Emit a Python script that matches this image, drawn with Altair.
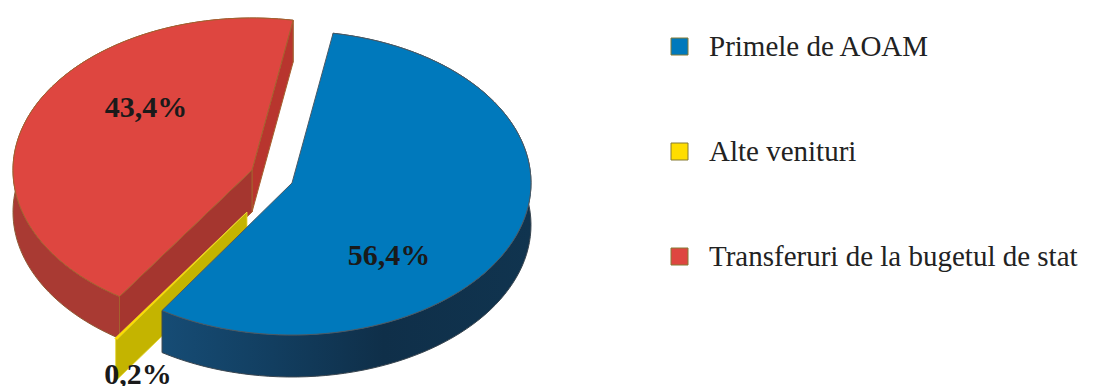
import numpy as np
import pandas as pd
import altair as alt

# Venituri: share of each source, in percent
categories = ["Primele de AOAM", "Alte venituri", "Transferuri de la bugetul de stat"]
shares = [56.4, 0.2, 43.4]
top_colors = ["#0079BC", "#FFDD00", "#DE4640"]

# Ellipse of the tilted disc, and the pull-out centre of each slice
RX, RY = 239, 152
DEPTH = 42
FIRST_ANGLE = 9.9
CENTERS = {"blue": (292, 183), "yellow": (247, 212), "red": (252, 170)}
W, H = 1094, 386

x_scale = alt.Scale(domain=[0, W], range=[0, W], nice=False, zero=False)
y_scale = alt.Scale(domain=[H, 0], range=[H, 0], nice=False, zero=False)
y_scale = alt.Scale(domain=[0, H], range=[0, H], nice=False, zero=False)


def rim(center, a0, a1, drop=0.0, n=90):
    """Points along the disc edge between two clockwise angles from the top."""
    t = np.radians(np.linspace(a0, a1, n))
    return center[0] + RX * np.sin(t), center[1] - RY * np.cos(t) + drop


def frame(xs, ys, **extra):
    xs = np.append(xs, xs[0])
    ys = np.append(ys, ys[0])
    return pd.DataFrame({"x": xs, "y": ys, "i": np.arange(len(xs)), **extra})


def top_face(center, a0, a1, category):
    rx, ry = rim(center, a0, a1)
    return frame(np.r_[center[0], rx], np.r_[center[1], ry], category=category)


def side_face(center, a0, a1):
    rx, ry = rim(center, a0, a1)
    bx, by = rim(center, a1, a0, drop=DEPTH)
    return frame(np.r_[rx, bx], np.r_[ry, by])


def cut_face(center, angle):
    ex, ey = rim(center, angle, angle, n=1)
    xs = np.array([center[0], ex[0], ex[0], center[0]])
    ys = np.array([center[1], ey[0], ey[0] + DEPTH, center[1] + DEPTH])
    return frame(xs, ys)


def polygon(df, fill, stroke, width=1.0):
    return alt.Chart(df).mark_line(
        fill=fill, stroke=stroke, strokeWidth=width, strokeJoin="round", interpolate="linear"
    ).encode(
        x=alt.X("x:Q", scale=x_scale, axis=None),
        y=alt.Y("y:Q", scale=y_scale, axis=None),
        order="i:Q",
    )


fill_scale = alt.Scale(domain=categories, range=top_colors)
legend = alt.Legend(
    title=None,
    orient="none",
    legendX=665,
    legendY=32,
    symbolType="square",
    symbolSize=289,
    symbolStrokeColor="#857a35",
    symbolStrokeWidth=1,
    symbolOpacity=1,
    labelFont="Liberation Serif",
    labelFontSize=29,
    labelColor="#222222",
    labelLimit=500,
    labelOffset=15,
    rowPadding=75,
)


def coloured_top(df, stroke, width=1.0):
    return alt.Chart(df).mark_line(
        stroke=stroke, strokeWidth=width, strokeJoin="round"
    ).encode(
        x=alt.X("x:Q", scale=x_scale, axis=None),
        y=alt.Y("y:Q", scale=y_scale, axis=None),
        order="i:Q",
        fill=alt.Fill("category:N", scale=fill_scale, legend=legend),
    )


a_blue_end = FIRST_ANGLE + shares[0] * 3.6
a_yellow_end = a_blue_end + shares[1] * 3.6
a_red_end = a_yellow_end + shares[2] * 3.6

blue_side_fill = alt.Gradient(
    gradient="linear", x1=0, x2=1, y1=0, y2=0,
    stops=[
        alt.GradientStop(offset=0, color="#164C75"),
        alt.GradientStop(offset=0.3, color="#123E60"),
        alt.GradientStop(offset=0.6, color="#0F2F49"),
        alt.GradientStop(offset=1, color="#10344F"),
    ],
)

layers = [
    # red slice: outer wall, two cut walls, top
    polygon(side_face(CENTERS["red"], a_yellow_end, a_red_end), "#A93A33", "#8F5A35"),
    polygon(cut_face(CENTERS["red"], a_red_end), "#B8352E", "#A5612F"),
    polygon(cut_face(CENTERS["red"], a_yellow_end), "#A5362F", "#A5612F"),
    coloured_top(top_face(CENTERS["red"], a_yellow_end, a_red_end, categories[2]), "#A5612F"),
    # yellow sliver: only its cut wall shows
    polygon(cut_face(CENTERS["yellow"], a_blue_end + 0.4), "#C4B400", "#E8D83A", 0.8),
    # blue slice: outer wall, then top
    polygon(side_face(CENTERS["blue"], FIRST_ANGLE, a_blue_end), blue_side_fill, "#3A4650"),
    coloured_top(top_face(CENTERS["blue"], FIRST_ANGLE, a_blue_end, categories[0]), "#4A5A66"),
    coloured_top(top_face(CENTERS["yellow"], a_blue_end, a_yellow_end, categories[1]), "#E8D83A", 0.5),
]

value_labels = pd.DataFrame({
    "x": [389, 138, 146],
    "y": [256, 375, 108],
    "label": [f"{v:.1f}%".replace(".", ",") for v in shares],
})
layers.append(
    alt.Chart(value_labels).mark_text(
        font="Liberation Serif", fontSize=30, fontWeight="bold", color="#1a1a1a", baseline="middle"
    ).encode(
        x=alt.X("x:Q", scale=x_scale, axis=None),
        y=alt.Y("y:Q", scale=y_scale, axis=None),
        text="label:N",
    )
)

chart = alt.layer(*layers).properties(
    width=W, height=H, padding=0, autosize=alt.AutoSizeParams(type="none"), background="white"
).configure_view(stroke=None)

chart.save("out.html", embed_options={"renderer": "svg", "actions": False})
